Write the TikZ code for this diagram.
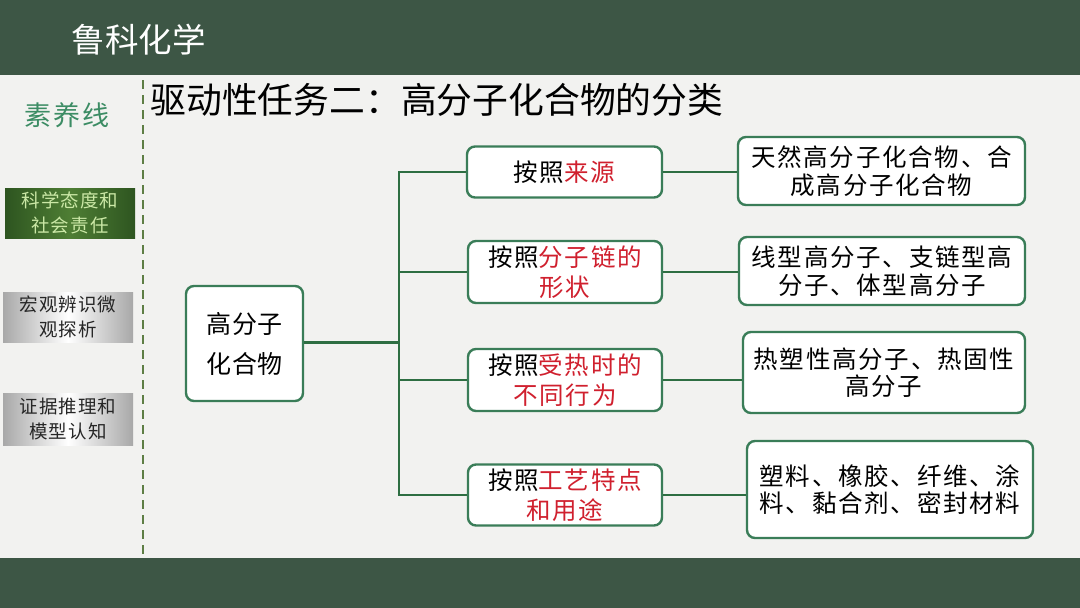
\documentclass[tikz,border=0pt]{standalone}
\usepackage{fontspec}
\setmainfont{Noto Sans CJK SC}
\definecolor{band}{HTML}{3D5645}
\definecolor{bg}{HTML}{F2F2F0}
\definecolor{boxline}{HTML}{3A7D58}
\definecolor{connc}{HTML}{2E6E42}
\definecolor{keyred}{HTML}{D0202E}
\definecolor{sytext}{HTML}{3C8C64}
\definecolor{dashc}{HTML}{5E7E45}
\definecolor{gdark}{HTML}{2E5520}
\definecolor{gmid}{HTML}{4E7E34}
\definecolor{gtext}{HTML}{CBE8A6}
\definecolor{grayedge}{HTML}{A8A8A8}
\newcommand{\kw}[1]{\textcolor{keyred}{#1}}
\tikzset{
  rbox/.style={draw=boxline, line width=2.4pt, fill=white, rounded corners=8pt,
    inner sep=0pt, align=center, text=black},
  midtxt/.style={font=\fontsize{24.5}{30}\selectfont\addfontfeature{LetterSpace=7}},
  righttxt/.style={font=\fontsize{24.5}{27.5}\selectfont\addfontfeature{LetterSpace=7}},
  connline/.style={draw=connc, line width=2.5pt},
  sidegray/.style={inner sep=0pt, align=center, left color=grayedge, right color=grayedge,
    middle color=white, text=black!85, font=\fontsize{18.5}{25}\selectfont\addfontfeature{LetterSpace=6}},
  sidegreen/.style={inner sep=0pt, align=center, left color=gdark, right color=gdark,
    middle color=gmid, text=gtext, font=\fontsize{18.5}{25}\selectfont\addfontfeature{LetterSpace=6}}
}
\begin{document}
\begin{tikzpicture}[x=1pt,y=-1pt]
\useasboundingbox (0,0) rectangle (1080,608);
\fill[bg] (0,0) rectangle (1080,608);
\fill[band] (0,0) rectangle (1080,75);
\fill[band] (0,558) rectangle (1080,608);

% header
\node[anchor=west, text=white, font=\fontsize{33.5}{38}\selectfont] (brand) at (68,40) {鲁科化学};
\node[anchor=west, text=black, font=\fontsize{35.8}{40}\selectfont] (title) at (147,100) {驱动性任务二：高分子化合物的分类};

% sidebar
\node[text=sytext, font=\fontsize{27}{30}\selectfont\addfontfeature{LetterSpace=6}] (syx) at (67,115) {素养线};
\draw[dashc, line width=1.8pt, dash pattern=on 9pt off 6pt] (143,80) -- (143,558);
\node[sidegreen, minimum width=130pt, minimum height=50pt] (lb1) at (70,213) {科学态度和\\社会责任};
\node[sidegray, minimum width=130pt, minimum height=50pt] (lb2) at (68,317) {宏观辨识微\\观探析};
\node[sidegray, minimum width=130pt, minimum height=52pt] (lb3) at (68,419) {证据推理和\\模型认知};

% root
\node[rbox, minimum width=117pt, minimum height=115pt, font=\fontsize{25}{40}\selectfont\addfontfeature{LetterSpace=3}] (root) at (244.5,343.5) {高分子\\化合物};

% middle boxes
\node[rbox, midtxt, minimum width=195pt, minimum height=51pt] (m1) at (564.5,172) {按照\kw{来源}};
\node[rbox, midtxt, minimum width=194pt, minimum height=62pt] (m2) at (565,272) {按照\kw{分子链的}\\\kw{形状}};
\node[rbox, midtxt, minimum width=194pt, minimum height=62pt] (m3) at (565,380) {按照\kw{受热时的}\\\kw{不同行为}};
\node[rbox, midtxt, minimum width=194pt, minimum height=61pt] (m4) at (565,495) {按照\kw{工艺特点}\\\kw{和用途}};

% right boxes
\node[rbox, righttxt, minimum width=287pt, minimum height=68pt] (r1) at (881.5,171) {天然高分子化合物、合\\成高分子化合物};
\node[rbox, righttxt, minimum width=286pt, minimum height=68pt] (r2) at (882,271) {线型高分子、支链型高\\分子、体型高分子};
\node[rbox, righttxt, minimum width=282pt, minimum height=81pt] (r3) at (884,372.5) {热塑性高分子、热固性\\高分子};
\node[rbox, righttxt, minimum width=286pt, minimum height=97pt] (r4) at (890,489.5) {塑料、橡胶、纤维、涂\\料、黏合剂、密封材料};

% connectors
\coordinate (J) at (399,342.5);
\draw[connline] (root.east |- J) -- (J);
\draw[connline, line cap=rect] (J |- m1.west) -- (J |- m4.west);
\foreach \m in {m1,m2,m3,m4} \draw[connline] (J |- \m.west) -- (\m.west);
\draw[connline] (m1.east) -- (m1.east -| r1.west);
\draw[connline] (m2.east) -- (m2.east -| r2.west);
\draw[connline] (m3.east) -- (m3.east -| r3.west);
\draw[connline] (m4.east) -- (m4.east -| r4.west);
\end{tikzpicture}
\end{document}
